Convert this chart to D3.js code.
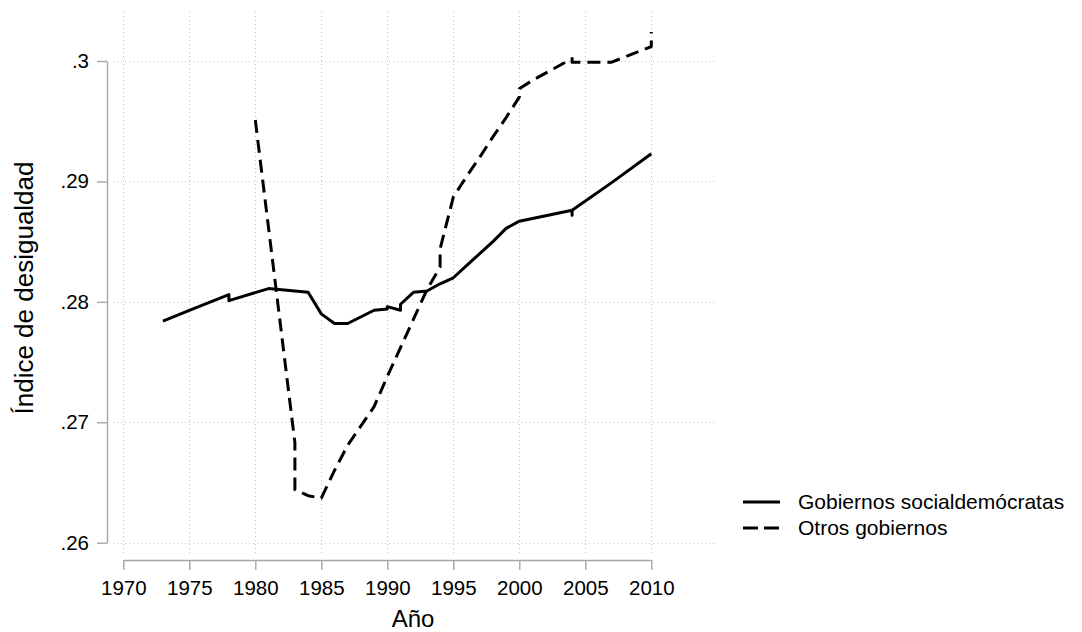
<!DOCTYPE html>
<html>
<head>
<meta charset="utf-8">
<script src="https://d3js.org/d3.v7.min.js"></script>
<style>
  body { margin: 0; background: #fff; }
  svg { font-family: "Liberation Sans", Arial, sans-serif; }
</style>
</head>
<body>
<svg width="1082" height="632"></svg>
<script>
// tick values and labels
const xTicks = [1970, 1975, 1980, 1985, 1990, 1995, 2000, 2005, 2010];
const yTicks = [0.26, 0.27, 0.28, 0.29, 0.30];
const yTickLabels = [".26", ".27", ".28", ".29", ".3"];

// Gobiernos socialdemócratas (year, index)
const socialYears = [1973, 1975, 1978, 1978, 1981, 1984, 1985, 1986, 1987, 1989, 1990, 1990, 1991, 1991, 1992, 1993, 1994, 1995, 1996, 1997, 1998, 1999, 2000, 2004, 2004, 2004, 2007, 2010];
const socialValues = [0.2784, 0.2793, 0.2806, 0.2801, 0.2811, 0.2808, 0.2790, 0.2782, 0.2782, 0.2793, 0.2794, 0.2796, 0.2793, 0.2798, 0.2808, 0.2809, 0.2815, 0.2820, 0.2830, 0.2840, 0.2850, 0.2861, 0.2867, 0.2876, 0.2872, 0.2876, 0.2899, 0.2923];

// Otros gobiernos
const otherYears = [1980, 1983, 1983, 1984, 1985, 1986, 1987, 1988, 1989, 1990, 1991, 1992, 1993, 1994, 1994, 1995, 1996, 1997, 1998, 1999, 2000, 2000, 2001, 2004, 2004, 2007, 2010, 2010];
const otherValues = [0.2951, 0.2683, 0.2644, 0.2639, 0.2637, 0.2660, 0.2681, 0.2697, 0.2713, 0.2738, 0.2762, 0.2786, 0.2810, 0.2829, 0.2844, 0.2887, 0.2904, 0.2920, 0.2937, 0.2953, 0.2970, 0.2977, 0.2984, 0.3002, 0.2999, 0.2999, 0.3012, 0.3024];

const seriesNames = ["Gobiernos socialdemócratas", "Otros gobiernos"];

const svg = d3.select("svg");

const xScale = d3.scaleLinear().domain([1970, 2010]).range([123.3, 651.3]);
const yScale = d3.scaleLinear().domain([0.26, 0.30]).range([542.7, 61]);

const plotLeft = 113, plotRight = 717, plotTop = 12, plotBottom = 553;

// dotted grid
const grid = svg.append("g").attr("class", "grid")
  .attr("stroke", "#c4c4c4")
  .attr("stroke-width", 1)
  .attr("stroke-dasharray", "1,3");

grid.selectAll(".hgrid")
  .data(yTicks)
  .enter()
  .append("line")
  .attr("x1", plotLeft)
  .attr("x2", plotRight)
  .attr("y1", d => Math.round(yScale(d)) + 0.5)
  .attr("y2", d => Math.round(yScale(d)) + 0.5);

grid.selectAll(".vgrid")
  .data(xTicks)
  .enter()
  .append("line")
  .attr("x1", d => Math.round(xScale(d)) + 0.5)
  .attr("x2", d => Math.round(xScale(d)) + 0.5)
  .attr("y1", plotTop)
  .attr("y2", plotBottom);

// y axis
const yAxis = d3.axisLeft(yScale)
  .tickValues(yTicks)
  .tickFormat((d, i) => yTickLabels[i])
  .tickSize(10)
  .tickPadding(8)
  .tickSizeOuter(0);

svg.append("g")
  .attr("class", "yAxis")
  .attr("transform", "translate(107,0)")
  .call(yAxis);

// x axis
const xAxis = d3.axisBottom(xScale)
  .tickValues(xTicks)
  .tickFormat(d => d)
  .tickSize(10)
  .tickPadding(10)
  .tickSizeOuter(0);

svg.append("g")
  .attr("class", "xAxis")
  .attr("transform", "translate(0,560)")
  .call(xAxis);

svg.selectAll(".yAxis path, .xAxis path, .yAxis line, .xAxis line")
  .attr("stroke", "#a6a6a6")
  .attr("stroke-width", 1.4);

svg.selectAll(".yAxis text, .xAxis text")
  .attr("fill", "#000")
  .style("font-family", "'Liberation Sans', Arial, sans-serif")
  .style("font-size", "20.5px");

// axis titles
svg.append("text")
  .text("Año")
  .attr("x", 413)
  .attr("y", 627)
  .attr("text-anchor", "middle")
  .style("font-size", "24px");

svg.append("text")
  .text("Índice de desigualdad")
  .attr("transform", "translate(33,288) rotate(-90)")
  .attr("text-anchor", "middle")
  .style("font-size", "26px");

// lines
const line = d3.line()
  .x(d => xScale(d[0]))
  .y(d => yScale(d[1]));

const social = socialYears.map((y, i) => [y, socialValues[i]]);
const other = otherYears.map((y, i) => [y, otherValues[i]]);

svg.append("path")
  .datum(social)
  .attr("d", line)
  .attr("fill", "none")
  .attr("stroke", "#000")
  .attr("stroke-width", 3)
  .attr("stroke-linejoin", "round");

svg.append("path")
  .datum(other)
  .attr("d", line)
  .attr("fill", "none")
  .attr("stroke", "#000")
  .attr("stroke-width", 3)
  .attr("stroke-dasharray", "13,7")
  .attr("stroke-linejoin", "round");

// legend
const legend = svg.append("g").attr("class", "legend");
const dashes = [null, "15,6"];

seriesNames.forEach((name, i) => {
  const ly = 502 + i * 26;
  legend.append("line")
    .attr("x1", 743)
    .attr("x2", 780)
    .attr("y1", ly)
    .attr("y2", ly)
    .attr("stroke", "#000")
    .attr("stroke-width", 3)
    .attr("stroke-dasharray", dashes[i]);
  legend.append("text")
    .text(name)
    .attr("x", 798)
    .attr("y", ly)
    .attr("dy", "0.35em")
    .style("font-size", "21px");
});
</script>
</body>
</html>
